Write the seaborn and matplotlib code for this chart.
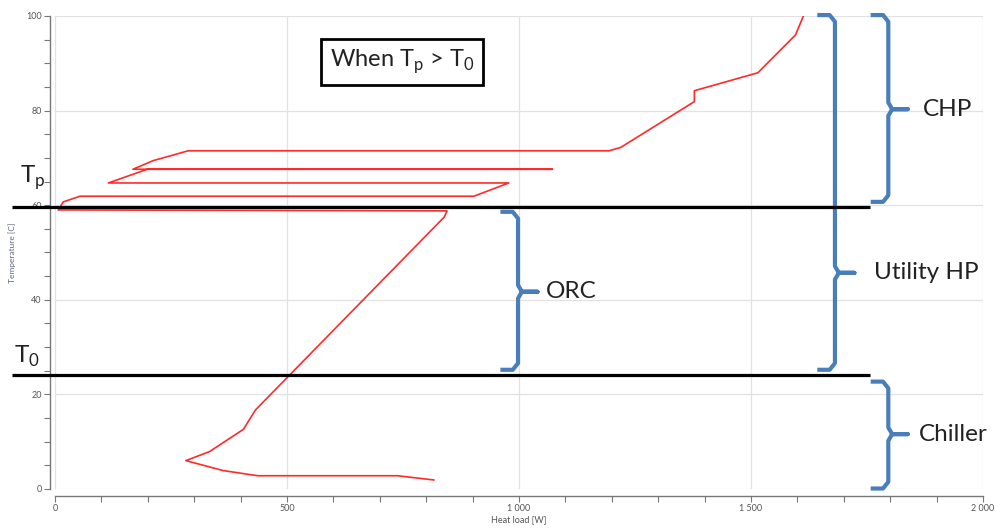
import pandas as pd
import seaborn as sns
import matplotlib.pyplot as plt
from matplotlib.ticker import MultipleLocator, FuncFormatter

# composite curve
heat_load = [817, 738, 437, 362, 282, 333, 406, 432, 839, 845, 7, 18, 54, 903,
             978, 115, 199, 1072, 168, 211, 287, 1194, 1219, 1378, 1378, 1515,
             1596, 1613]
temperature = [1.9, 2.8, 2.8, 3.9, 6.0, 7.9, 12.6, 16.7, 57.5, 58.8, 59.0, 60.7,
               61.9, 61.9, 64.7, 64.7, 67.6, 67.6, 67.6, 69.4, 71.5, 71.5, 72.2,
               81.9, 84.2, 88.0, 96.0, 100.0]

# pinch / ambient temperature levels
t_pinch = 59.6
t_ambient = 24.1
level_span = [-92, 1756]

# braces: name, spine x, bottom, top, middle
brace_names = ["ORC", "Utility HP", "CHP", "Chiller"]
brace_x = [998, 1681, 1796, 1796]
brace_bottom = [25.2, 25.2, 60.7, 0.1]
brace_top = [58.6, 100.2, 100.2, 22.7]
brace_mid = [41.7, 45.7, 80.3, 11.6]
label_gap = [60, 84, 75, 65]

BLUE = "#4a7ebb"


def draw_brace(ax, x, y0, y1, ym, hook=38, tip=42, r=1.4):
    xs = [x - hook, x - hook * 0.3, x, x, x + tip * 0.2, x + tip,
          x + tip * 0.2, x, x, x - hook * 0.3, x - hook]
    ys = [y1, y1, y1 - r, ym + r, ym, ym, ym, ym - r, y0 + r, y0, y0]
    ax.plot(xs, ys, color=BLUE, lw=3, clip_on=False,
            solid_joinstyle="round", solid_capstyle="butt", zorder=4)


sns.set_theme(style="ticks")
plt.rcParams['font.family'] = ['Lato', 'DejaVu Sans']
plt.rcParams['mathtext.fontset'] = 'custom'
plt.rcParams['mathtext.rm'] = 'Lato'

fig = plt.figure(figsize=(9.96, 5.28), dpi=100)
ax = fig.add_axes([0.0552, 0.0739, 0.9317, 0.8958])

curve = pd.DataFrame({"Heat load [W]": heat_load, "Temperature [C]": temperature})
sns.lineplot(data=curve, x="Heat load [W]", y="Temperature [C]", sort=False,
             estimator=None, color="#ff2a2a", lw=1.2, ax=ax, zorder=3)

ax.set_xlim(0, 2000)
ax.set_ylim(0, 100)
ax.xaxis.set_major_locator(MultipleLocator(500))
ax.xaxis.set_minor_locator(MultipleLocator(100))
ax.yaxis.set_major_locator(MultipleLocator(20))
ax.yaxis.set_minor_locator(MultipleLocator(5))
ax.xaxis.set_major_formatter(FuncFormatter(lambda v, p: f"{int(v):,}".replace(",", " ")))
ax.tick_params(which="both", labelsize=6.5, labelcolor="#555555", color="#777777",
               length=4, width=0.8, pad=2)
ax.grid(True, which="major", color="#e2e2e2", lw=0.9)
ax.set_xlabel("Heat load [W]", fontsize=6.5, color="#555555", labelpad=1)
ax.set_ylabel("Temperature [C]", fontsize=6, color="#5a6785", labelpad=7)
for s in ["left", "bottom"]:
    ax.spines[s].set_color("#777777")
    ax.spines[s].set_linewidth(1)
sns.despine(ax=ax, offset={"left": 3.6, "bottom": 5}, trim=True)

# pinch and ambient lines
for t in (t_pinch, t_ambient):
    ax.plot(level_span, [t, t], color="black", lw=2.3, clip_on=False,
            solid_capstyle="butt", zorder=5)

ax.text(-75, 65.8, r"T$_\mathregular{p}$", fontsize=17.5, color="#222222",
        ha="left", va="center", clip_on=False)
ax.text(-88, 28.0, r"T$_\mathregular{0}$", fontsize=17.5, color="#222222",
        ha="left", va="center", clip_on=False)

for name, bx, b0, b1, bm, gap in zip(brace_names, brace_x, brace_bottom,
                                     brace_top, brace_mid, label_gap):
    draw_brace(ax, bx, b0, b1, bm)
    ax.text(bx + gap, bm, name, fontsize=17.5, color="#222222", ha="left",
            va="center", clip_on=False)

ax.text(748, 90.3, r"When T$_\mathregular{p}$ > T$_\mathregular{0}$", fontsize=17,
        color="#222222", ha="center", va="center",
        bbox=dict(boxstyle="square,pad=0.38", fc="white", ec="black", lw=2))

fig.savefig("out.png", dpi=100)
